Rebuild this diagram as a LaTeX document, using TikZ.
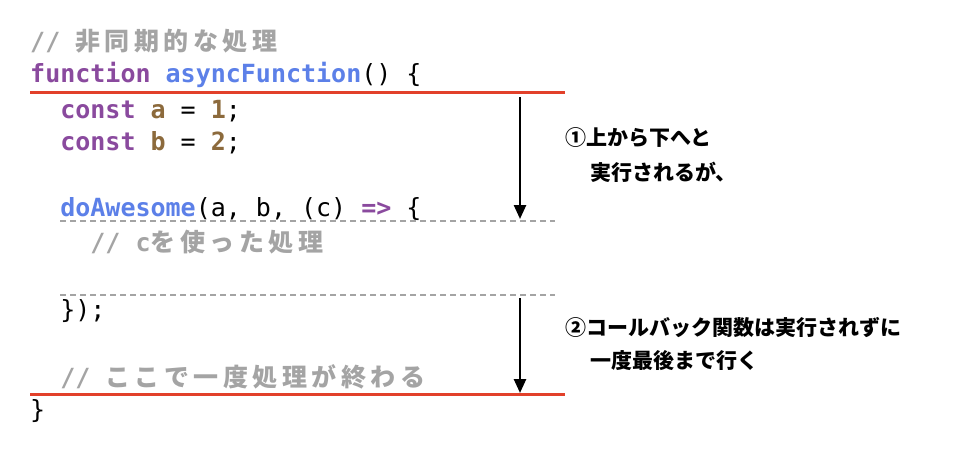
\documentclass[tikz,border=0pt]{standalone}
\usetikzlibrary{arrows.meta}
\usepackage{fontspec}
\setmonofont{DejaVu Sans Mono}
\newfontfamily\cjk[LetterSpace=18]{Noto Sans CJK JP}
\newfontfamily\cjkt{Noto Sans CJK JP}
\definecolor{kw}{HTML}{8A4A9E}
\definecolor{fn}{HTML}{5C80E8}
\definecolor{nm}{HTML}{8C6A3C}
\definecolor{cm}{HTML}{A4A4A4}
\definecolor{rl}{HTML}{E2402A}
\begin{document}
\begin{tikzpicture}[x=1pt,y=-1pt,
  code/.style={anchor=base west,inner sep=0pt,font=\ttfamily\fontsize{25}{25}\selectfont},
  note/.style={anchor=base west,inner sep=0pt,font=\cjkt\bfseries\fontsize{21}{21}\selectfont},
  redline/.style={draw=rl,line width=3pt},
  dashline/.style={draw=cm,line width=2pt,dash pattern=on 6pt off 4pt},
  arr/.style={-{Triangle[length=14pt,width=12pt]},line width=2.5pt}]
\useasboundingbox (0,0) rectangle (965,451);
\node[code,text=cm] (l1) at (30,50) {\bfseries// {\cjk 非同期的な処理}};
\node[code] (l2) at (30,82) {\bfseries\color{kw}function \color{fn}asyncFunction\mdseries\color{black}() \{};
\node[code] (l3) at (30,118) {\ \ \bfseries\color{kw}const \color{nm}a \mdseries\color{black}= \bfseries\color{nm}1\mdseries\color{black};};
\node[code] (l4) at (30,150) {\ \ \bfseries\color{kw}const \color{nm}b \mdseries\color{black}= \bfseries\color{nm}2\mdseries\color{black};};
\node[code] (l5) at (30,216) {\ \ \bfseries\color{fn}doAwesome\mdseries\color{black}(a, b, (c) \bfseries\color{kw}=> \mdseries\color{black}\{};
\node[code,text=cm] (l6) at (30,251) {\ \ \ \ \bfseries// {c\cjk を使った処理}};
\node[code] (l7) at (30,318) {\ \ \});};
\node[code,text=cm] (l8) at (30,386) {\ \ \bfseries// {\cjk ここで一度処理が終わる}};
\node[code] (l9) at (30,418) {\}};
\coordinate (r1a) at (30,92); \coordinate (r1b) at (565,92);
\coordinate (r2a) at (30,394); \coordinate (r2b) at (565,394);
\draw[redline] (r1a) -- (r1b);
\draw[redline] (r2a) -- (r2b);
\coordinate (d1a) at (60,221); \coordinate (d1b) at (555,221);
\coordinate (d2a) at (60,295); \coordinate (d2b) at (555,295);
\draw[dashline] (d1a) -- (d1b);
\draw[dashline] (d2a) -- (d2b);
\coordinate (a1s) at (520,97); \coordinate (a1e) at (520,219);
\coordinate (a2s) at (520,298); \coordinate (a2e) at (520,393);
\draw[arr] (a1s) -- (a1e);
\draw[arr] (a2s) -- (a2e);
\node[note] (n1) at (565,145) {①上から下へと};
\node[note] (n2) at (590,180) {実行されるが、};
\node[note] (n3) at (565,335) {②コールバック関数は実行されずに};
\node[note] (n4) at (590,368) {一度最後まで行く};
\end{tikzpicture}
\end{document}
